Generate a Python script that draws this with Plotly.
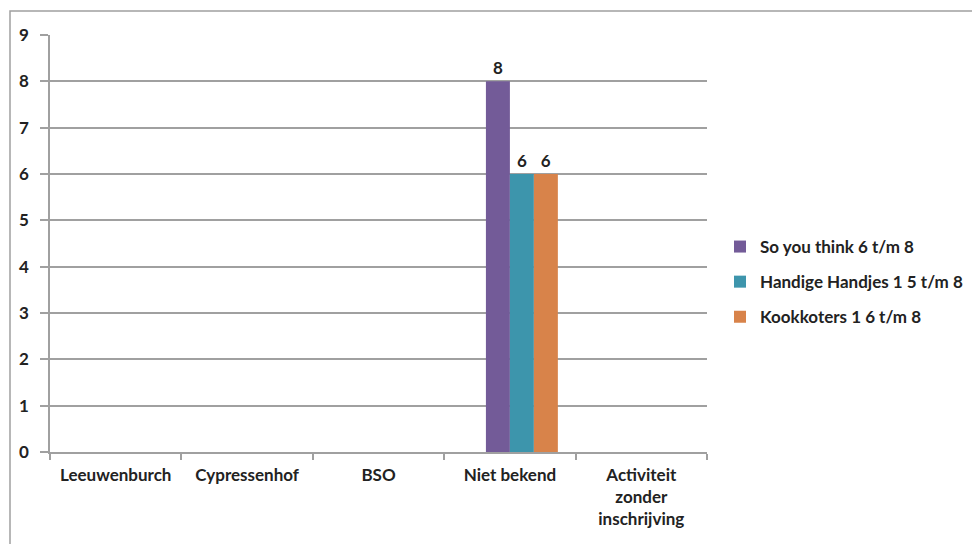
import plotly.graph_objects as go

categories = ["Leeuwenburch", "Cypressenhof", "BSO", "Niet bekend", "Activiteit<br>zonder<br>inschrijving"]
series_names = ["So you think 6 t/m 8", "Handige Handjes 1 5 t/m 8", "Kookkoters 1 6 t/m 8"]
so_you_think = [None, None, None, 8, None]
handige_handjes = [None, None, None, 6, None]
kookkoters = [None, None, None, 6, None]
colors = ["#735B98", "#3D95AC", "#D8834A"]

FONT = "Lato"
FS = 17
TXT = "#222222"

fig = go.Figure()
# empty leading series (occupies first slot of each cluster, as in the source chart)
fig.add_trace(go.Bar(x=categories, y=[0, 0, 0, 0, 0], name="", showlegend=False,
                     marker=dict(color="rgba(0,0,0,0)", line=dict(width=0)),
                     hoverinfo="skip", offsetgroup="0"))
for i, (name, vals, col) in enumerate(zip(series_names, [so_you_think, handige_handjes, kookkoters], colors)):
    fig.add_trace(go.Bar(
        x=categories, y=vals, name=name, legendgroup=name, offsetgroup=str(i + 1),
        marker=dict(color=col, line=dict(width=0)),
        text=[("" if v is None else str(v)) for v in vals],
        textposition="outside", cliponaxis=False,
        textfont=dict(family=FONT, size=FS, color=TXT, weight="bold"),
    ))

W, H = 980, 544
OFF = 8  # body margin of the page
# plot area in page pixels
PX0, PX1, PY0, PY1 = 50, 707, 35, 452
l = PX0 - OFF
t = PY0 - OFF
r = W - l - (PX1 - PX0)
b = H - t - (PY1 - PY0)
pw, ph = PX1 - PX0, PY1 - PY0

def px_x(p):
    return (p - PX0) / pw

def px_y(p):
    return (PY1 - p) / ph

fig.update_layout(
    width=W, height=H,
    margin=dict(l=l, r=r, t=t, b=b),
    paper_bgcolor="white", plot_bgcolor="white",
    barmode="group", bargap=0.27, bargroupgap=0,
    font=dict(family=FONT, size=FS, color=TXT),
    showlegend=True,
    legend=dict(
        x=px_x(720), y=px_y(229), xanchor="left", yanchor="top",
        font=dict(family=FONT, size=FS, color=TXT, weight="bold"),
        tracegroupgap=10, itemwidth=30, bgcolor="rgba(0,0,0,0)",
    ),
    shapes=[dict(type="rect", xref="paper", yref="paper",
                 x0=px_x(10), x1=px_x(990), y0=px_y(600), y1=px_y(11),
                 line=dict(color="#A0A0A0", width=1.5), fillcolor="rgba(0,0,0,0)", layer="below")],
)
fig.update_xaxes(
    showline=True, linecolor="#A0A0A0", linewidth=1.5,
    ticks="outside", tickson="boundaries", ticklen=6, tickcolor="#A0A0A0", tickwidth=1.5,
    tickfont=dict(family=FONT, size=FS, color=TXT, weight="bold"),
    ticklabelstandoff=7,
    showgrid=False, fixedrange=True,
)
fig.update_yaxes(
    range=[0, 9], dtick=1, tick0=0,
    showline=True, linecolor="#A0A0A0", linewidth=1.5,
    ticks="outside", ticklen=8, tickcolor="#A0A0A0", tickwidth=1.5,
    showgrid=True, gridcolor="#A0A0A0", gridwidth=1.5,
    zeroline=False,
    tickfont=dict(family=FONT, size=FS, color=TXT, weight="bold"),
    ticklabelstandoff=8,
    fixedrange=True,
)

fig.write_html("out.html")
